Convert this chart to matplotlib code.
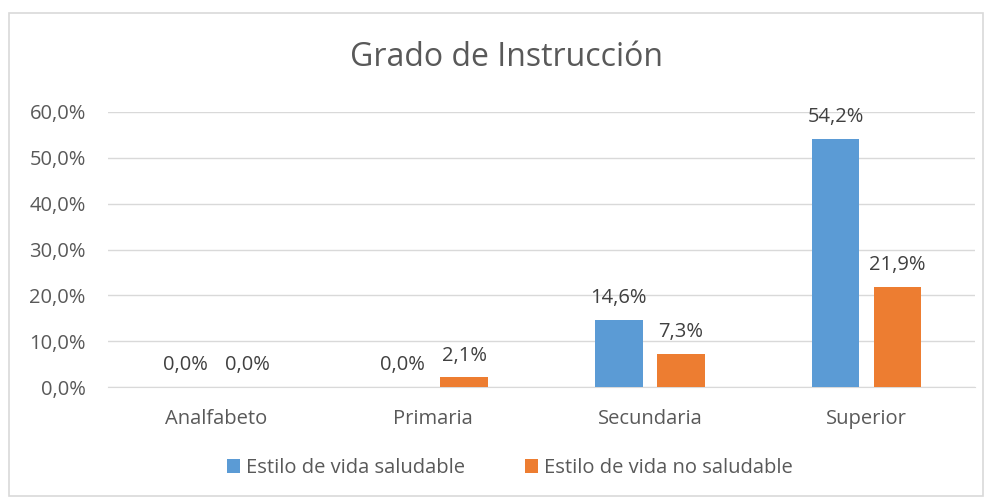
import matplotlib.pyplot as plt
import numpy as np
from matplotlib.patches import Rectangle

categories = ["Analfabeto", "Primaria", "Secundaria", "Superior"]
saludable = [0.0, 0.0, 14.6, 54.2]
no_saludable = [0.0, 2.1, 7.3, 21.9]
series_names = ["Estilo de vida saludable", "Estilo de vida no saludable"]
yticks = [0, 10, 20, 30, 40, 50, 60]

blue = "#5B9BD5"
orange = "#ED7D31"
text_col = "#595959"

plt.rcParams['font.family'] = ['Open Sans', 'DejaVu Sans']

fig = plt.figure(figsize=(9.92, 5.0), dpi=100)
ax = fig.add_axes([108/992, 1-387/500, (975-108)/992, (387-112)/500])

# chart frame
fig.patches.append(Rectangle((9/992, 1-496/500), 974/992, 483/500, transform=fig.transFigure,
                             fill=False, edgecolor="#D9D9D9", linewidth=1.2))

x = np.arange(len(categories))
w = 0.22
off = 0.143
b1 = ax.bar(x - off, saludable, w, color=blue, label=series_names[0], zorder=3)
b2 = ax.bar(x + off, no_saludable, w, color=orange, label=series_names[1], zorder=3)

for bars, vals in [(b1, saludable), (b2, no_saludable)]:
    for r, v in zip(bars, vals):
        ax.annotate(("%.1f%%" % v).replace(".", ","), (r.get_x() + r.get_width()/2, v),
                    xytext=(0, 8.5), textcoords="offset points", ha="center", va="bottom",
                    fontsize=14.5, color="#404040")

ax.set_xlim(-0.5, 3.5)
ax.set_ylim(0, 60)
ax.set_yticks(yticks)
ax.set_yticklabels([("%.1f%%" % t).replace(".", ",") for t in yticks])
ax.set_xticks(x)
ax.set_xticklabels(categories)
ax.tick_params(axis="both", length=0, labelsize=14.5, colors=text_col)
ax.tick_params(axis="y", pad=16)
ax.tick_params(axis="x", pad=16)
ax.grid(axis="y", color="#D9D9D9", linewidth=1.0, zorder=0)
for s in ["top", "right", "left"]:
    ax.spines[s].set_visible(False)
ax.spines["bottom"].set_color("#D9D9D9")

fig.text(506/992, 1-58/500, "Grado de Instrucción", ha="center", va="center",
         fontsize=23, color=text_col)

leg = fig.legend(handles=[b1, b2], labels=series_names, loc="center", bbox_to_anchor=(510/992, 1-468/500),
                 ncol=2, frameon=False, fontsize=14.5, handlelength=0.65, handleheight=0.65,
                 columnspacing=3.0, handletextpad=0.3)
for t in leg.get_texts():
    t.set_color(text_col)

fig.savefig("out.png", dpi=100)
